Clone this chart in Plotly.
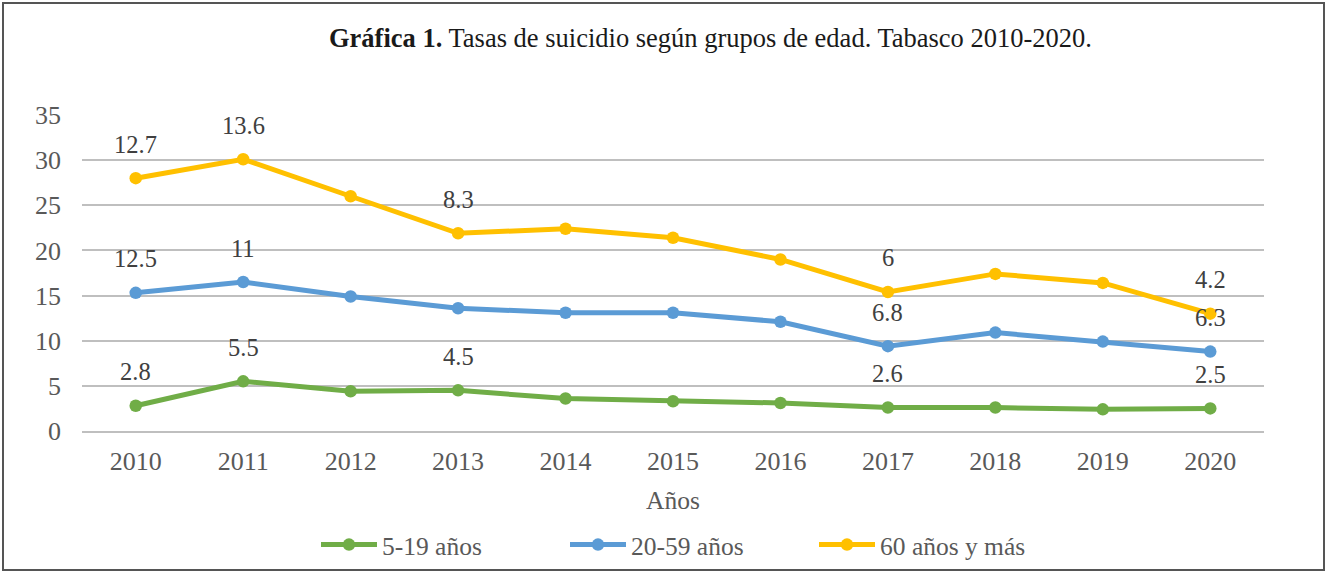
import plotly.graph_objects as go
import numpy as np

years = ["2010", "2011", "2012", "2013", "2014", "2015", "2016", "2017", "2018", "2019", "2020"]
g5_19 = [2.8, 5.5, 4.4, 4.5, 3.6, 3.3, 3.1, 2.6, 2.6, 2.4, 2.5]
g20_59 = [12.5, 11, 10.5, 9.1, 9.5, 9.8, 9.0, 6.8, 8.3, 7.5, 6.3]
g60 = [12.7, 13.6, 11.1, 8.3, 9.3, 8.3, 6.9, 6.0, 6.5, 6.5, 4.2]
names = ["5-19 años", "20-59 años", "60 años y más"]
colors = ["#70AD47", "#5B9BD5", "#FFC000"]
# indices of points that carry a data label in the original
labeled = [[0, 1, 3, 7, 10], [0, 1, 7, 10], [0, 1, 3, 7, 10]]
yticks = [0, 5, 10, 15, 20, 25, 30, 35]

series = [g5_19, g20_59, g60]
W, H = 1327, 573
L, R, T, B = 82, 63, 115, 142
pw, ph = W - L - R, H - T - B

serif = "Liberation Serif"
fig = go.Figure()
for s, n, c in zip(series, names, colors):
    fig.add_trace(go.Scatter(
        x=years, y=s, name=n, stackgroup="one", fill="none", mode="lines+markers",
        line=dict(color=c, width=5), marker=dict(color=c, size=12.5),
    ))

cum = np.cumsum(np.array(series, dtype=float), axis=0)
ann = []
for si, s in enumerate(series):
    for i in labeled[si]:
        ann.append(dict(x=i, y=float(cum[si][i]), xref="x", yref="y", text=f"{s[i]:g}", showarrow=False,
                        yshift=34, font=dict(family=serif, size=24.5, color="#404040")))

ann.append(dict(xref="paper", yref="paper", x=(710 - L) / pw, y=(H - B - 38) / ph,
                xanchor="center", yanchor="middle",
                text="<b>Gráfica 1.</b> Tasas de suicidio según grupos de edad. Tabasco 2010-2020.",
                showarrow=False, font=dict(family=serif, size=26.5, color="#1a1a1a")))

fig.update_layout(
    width=W, height=H, margin=dict(l=L, r=R, t=T, b=B, autoexpand=False),
    paper_bgcolor="white", plot_bgcolor="white",
    font=dict(family=serif, size=26, color="#595959"),
    annotations=ann,
    showlegend=True,
    legend=dict(orientation="h", x=(316 - L) / pw, xanchor="left", yref="container", y=(H - 545) / H,
                yanchor="middle", font=dict(family=serif, size=25.5, color="#595959"),
                itemwidth=56, entrywidth=178, tracegroupgap=0),
    xaxis=dict(type="category", range=[-0.5, 10.5], showgrid=False, showline=True, automargin=False,
               linecolor="#bfbfbf", linewidth=2, ticks="", tickfont=dict(family=serif, size=26, color="#595959"),
               ticklabelstandoff=6,
               title=dict(text="Años", font=dict(family=serif, size=25.5, color="#595959"), standoff=16),
               fixedrange=True),
    yaxis=dict(range=[0, 35], tickvals=yticks, showgrid=True, gridcolor="#bfbfbf", gridwidth=2, automargin=False,
               zeroline=False, showline=False, ticks="", tickfont=dict(family=serif, size=26, color="#595959"),
               ticklabelstandoff=20, fixedrange=True),
    shapes=[dict(type="rect", xref="paper", yref="paper",
                 x0=(3 - L) / pw, x1=(1324 - L) / pw, y0=(H - B - 570) / ph, y1=(H - B - 3) / ph,
                 line=dict(color="#555555", width=2), fillcolor="rgba(0,0,0,0)", layer="above")],
)

fig.write_html("out.html", config={"displayModeBar": False, "staticPlot": True},
               post_script="document.body.style.margin='0';document.body.style.overflow='hidden';")
